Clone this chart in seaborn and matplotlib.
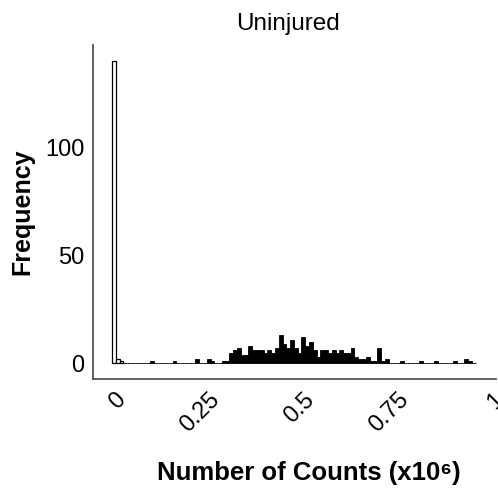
import matplotlib
matplotlib.use("Agg")
import matplotlib.pyplot as plt
import seaborn as sns

# Histogram of counts per cell (x10^6), bin width 0.01
# Low-count (background) bins, drawn hollow
background_bins = [0.00, 0.01, 0.02]
background_counts = [140, 2, 1]

# Signal bins, drawn filled
signal_bins = [0.10, 0.16, 0.22, 0.25, 0.26, 0.29, 0.30, 0.31, 0.32, 0.33,
               0.34, 0.35, 0.36, 0.37, 0.38, 0.39, 0.40, 0.41, 0.42, 0.43,
               0.44, 0.45, 0.46, 0.47, 0.48, 0.49, 0.50, 0.51, 0.52, 0.53,
               0.54, 0.55, 0.56, 0.57, 0.58, 0.59, 0.60, 0.61, 0.62, 0.63,
               0.64, 0.65, 0.66, 0.67, 0.68, 0.69, 0.70, 0.71, 0.72, 0.76,
               0.81, 0.85, 0.90, 0.93, 0.94]
signal_counts = [1, 1, 2, 2, 1, 1, 1, 5, 6, 7,
                 4, 4, 8, 6, 6, 6, 5, 6, 5, 7,
                 13, 9, 7, 11, 7, 5, 12, 8, 10, 6,
                 3, 6, 6, 5, 6, 5, 6, 5, 5, 7,
                 3, 2, 2, 3, 1, 1, 7, 1, 2, 1,
                 1, 1, 1, 2, 1]

x_ticks = [0, 0.25, 0.5, 0.75, 1]
x_tick_labels = ["0", "0.25", "0.5", "0.75", "1"]
y_ticks = [0, 50, 100]

sns.set_style("white")
plt.rcParams["font.family"] = ["Liberation Sans", "DejaVu Sans"]
plt.rcParams["text.color"] = "black"
plt.rcParams["axes.labelcolor"] = "black"

fig = plt.figure(figsize=(4.98, 4.88), dpi=100)
ax = fig.add_axes([0.1867, 0.2234, 0.8092, 0.6844])

sns.histplot(x=background_bins, weights=background_counts, binwidth=0.01,
             binrange=(-0.005, 0.025), color="white", edgecolor="black",
             linewidth=0.9, alpha=1, ax=ax)
# empty bins keep a flat outline along zero
sns.histplot(x=signal_bins, weights=signal_counts, binwidth=0.01,
             binrange=(0.025, 0.955), color="black", edgecolor="black",
             linewidth=0.6, alpha=1, ax=ax)

ax.set_xlim(-0.0555, 1.0087)
ax.set_ylim(-7.2, 147.3)

ax.set_xticks(x_ticks)
ax.set_xticklabels(x_tick_labels, rotation=45, ha="right", va="top",
                   rotation_mode="anchor")
ax.set_yticks(y_ticks)
ax.tick_params(axis="both", labelsize=17, colors="#555555", length=4,
               width=1, labelcolor="black", pad=2)
ax.tick_params(axis="x", pad=3)

sns.despine(ax=ax)
for side in ("left", "bottom"):
    ax.spines[side].set_color("#555555")
    ax.spines[side].set_linewidth(1.3)

ax.set_title("Uninjured", fontsize=17.5, pad=11, x=0.483, color="black")
ax.set_xlabel("Number of Counts (x10\u2076)", fontsize=18.5,
              fontweight="bold", color="black")
ax.xaxis.set_label_coords(0.536, -0.245)
ax.set_ylabel("Frequency", fontsize=18, fontweight="bold", labelpad=8,
              color="black")

fig.savefig("out.png", dpi=100)
